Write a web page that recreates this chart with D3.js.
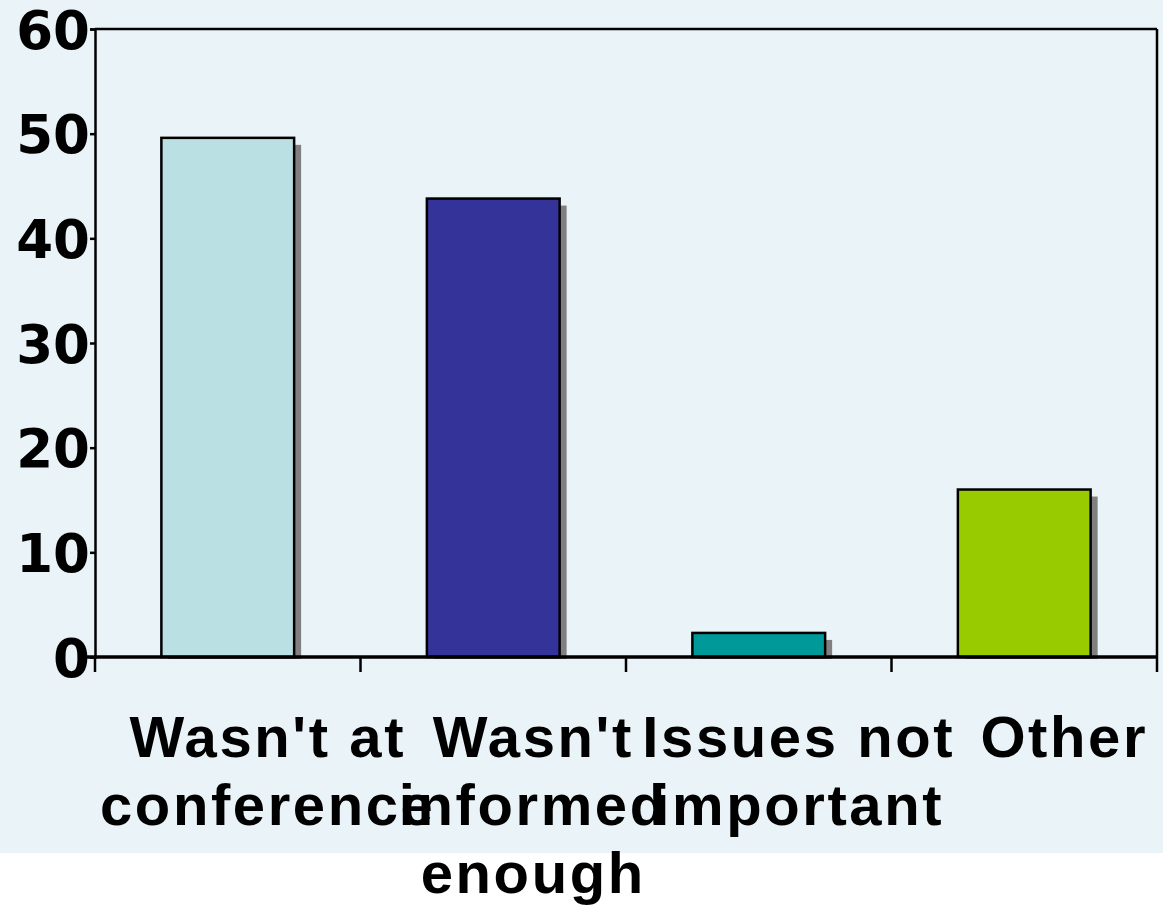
<!DOCTYPE html>
<html>
<head>
<meta charset="utf-8">
<script src="https://cdn.jsdelivr.net/npm/d3@7"></script>
<style>
  html, body { margin: 0; padding: 0; background: #ffffff; }
  svg { display: block; }
</style>
</head>
<body>
<svg id="chart" width="1163" height="910"></svg>
<script>
const categories = [
  ["Wasn't at", "conference"],
  ["Wasn't", "informed", "enough"],
  ["Issues not", "important"],
  ["Other"]
];
const categoryKeys = ["Wasn't at conference", "Wasn't informed enough", "Issues not important", "Other"];
const values = [49.6, 43.8, 2.3, 16.0];
const barColors = ["#bbe0e3", "#333399", "#009999", "#99cc00"];
const yTicks = [0, 10, 20, 30, 40, 50, 60];

const W = 1163, H = 910;
const margin = { left: 95, right: 6, top: 29, bottom: 253 };
const svg = d3.select("#chart");

// backgrounds
svg.append("rect").attr("x", 0).attr("y", 0).attr("width", W).attr("height", 853).attr("fill", "#eaf3f7");

const x = d3.scaleBand().domain(categoryKeys).range([margin.left, W - margin.right]).paddingInner(0.5).paddingOuter(0.25);
const xb = d3.scaleBand().domain(categoryKeys).range([margin.left, W - margin.right]);
const y = d3.scaleLinear().domain([0, 60]).range([H - margin.bottom, margin.top]);

// shadows
const sh = 7;
svg.append("g").selectAll("rect").data(values).join("rect")
  .attr("x", (d, i) => x(categoryKeys[i]) + sh)
  .attr("y", d => y(d) + sh)
  .attr("width", x.bandwidth())
  .attr("height", d => Math.max(0, y(0) + 2 - (y(d) + sh)))
  .attr("fill", "#808080");

// bars
svg.append("g").selectAll("rect").data(values).join("rect")
  .attr("x", (d, i) => x(categoryKeys[i]))
  .attr("y", d => y(d))
  .attr("width", x.bandwidth())
  .attr("height", d => y(0) - y(d))
  .attr("fill", (d, i) => barColors[i])
  .attr("stroke", "#000")
  .attr("stroke-width", 2.5);

// frame top and right
svg.append("line").attr("x1", margin.left).attr("x2", W - margin.right).attr("y1", y(60)).attr("y2", y(60)).attr("stroke", "#000").attr("stroke-width", 2.5);
svg.append("line").attr("x1", W - margin.right).attr("x2", W - margin.right).attr("y1", y(60)).attr("y2", y(0)).attr("stroke", "#000").attr("stroke-width", 2.5);

// y axis
const yAxis = d3.axisLeft(y).tickValues(yTicks).tickSize(5).tickPadding(0).tickFormat(d3.format("d"));
const gy = svg.append("g").attr("transform", `translate(${margin.left},0)`).call(yAxis);
gy.select(".domain").attr("stroke", "#000").attr("stroke-width", 2.5);
gy.selectAll(".tick line").attr("stroke", "#000").attr("stroke-width", 2.5);
gy.selectAll(".tick text")
  .attr("font-family", "'DejaVu Sans', sans-serif")
  .attr("font-weight", "bold")
  .attr("font-size", 53)
  .attr("fill", "#000")
  .attr("dy", "0.36em");

// x axis line at 0
svg.append("line").attr("x1", margin.left - 10).attr("x2", W - margin.right).attr("y1", y(0)).attr("y2", y(0)).attr("stroke", "#000").attr("stroke-width", 3.5);

// category boundary ticks
const bounds = categoryKeys.map(k => xb(k)).concat([xb(categoryKeys[categoryKeys.length - 1]) + xb.bandwidth()]);
svg.append("g").selectAll("line").data(bounds).join("line")
  .attr("x1", d => d).attr("x2", d => d)
  .attr("y1", y(0)).attr("y2", y(0) + 15)
  .attr("stroke", "#000").attr("stroke-width", 2.5);

// category labels
const labelOffset = 40;
const lineH = 68;
const labels = svg.append("g");
categories.forEach((lines, i) => {
  const cx = xb(categoryKeys[i]) + xb.bandwidth() / 2 + labelOffset;
  lines.forEach((t, j) => {
    labels.append("text")
      .attr("x", cx)
      .attr("y", 757 + j * lineH)
      .attr("text-anchor", "middle")
      .attr("font-family", "'Liberation Sans', Arial, sans-serif")
      .attr("font-weight", "bold")
      .attr("font-size", 58)
      .attr("letter-spacing", 2.6)
      .attr("fill", "#000")
      .text(t);
  });
});
</script>
</body>
</html>
